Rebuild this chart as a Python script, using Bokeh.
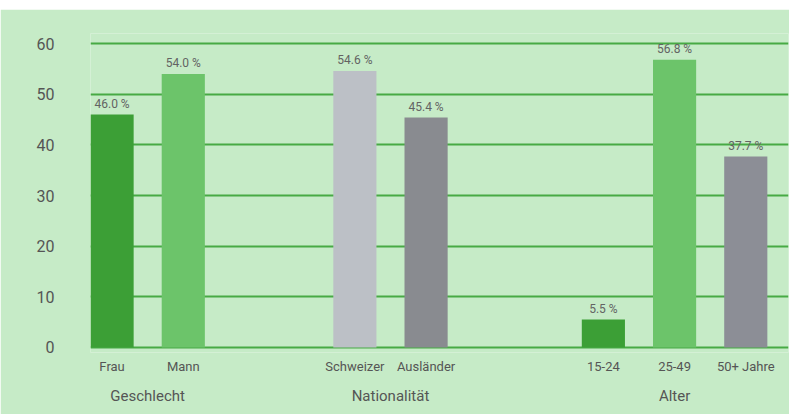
from bokeh.plotting import figure
from bokeh.models import ColumnDataSource, Range1d, FixedTicker, LinearAxis, Spacer
from bokeh.layouts import column
from bokeh.core.properties import value
from bokeh.embed import file_html
from bokeh.resources import INLINE

# ---- data ----
groups = ["Geschlecht", "Nationalität", "Alter"]
categories = [["Frau", "Mann"], ["Schweizer", "Ausländer"], ["15-24", "25-49", "50+ Jahre"]]
values = [[46.0, 54.0], [54.6, 45.4], [5.5, 56.8, 37.7]]
y_ticks = [0, 10, 20, 30, 40, 50, 60]

# ---- style ----
bar_colors = [["#3c9f36", "#6cc46a"], ["#bcc0c6", "#898b90"], ["#3c9f36", "#6cc46a", "#8c8e96"]]
FONT = "Roboto"
BG = "#c6ebc7"
GRID = "#47aa44"
TXT = "#555555"
GROUP_STEPS = [2.41, 2.49, 0]   # distance from last bar of a group to first of the next

xs, labels, vals, cols, texts = [], [], [], [], []
group_centers = []
pos = 0.0
for cats, vs, cs, step in zip(categories, values, bar_colors, GROUP_STEPS):
    first = pos
    for c, v, col in zip(cats, vs, cs):
        xs.append(pos)
        labels.append(c)
        vals.append(v)
        cols.append(col)
        texts.append(f"{v:.1f} %")
        last = pos
        pos += 1.0
    group_centers.append((first + last) / 2)
    pos = last + step

src = ColumnDataSource(dict(x=xs, v=vals, color=cols, lbl=texts))

BAR_W = 0.606
p = figure(width=789, height=405,
           x_range=Range1d(xs[0] - BAR_W / 2, xs[-1] + 0.6),
           y_range=Range1d(-1, 62),
           output_backend="svg", toolbar_location=None,
           min_border_left=90, min_border_right=1, min_border_top=24, min_border_bottom=62)
p.background_fill_color = BG
p.border_fill_color = BG
p.outline_line_color = None

p.vbar(x="x", top="v", bottom=0, width=BAR_W, fill_color="color", line_color=None, source=src)
p.text(x="x", y="v", text="lbl", source=src, text_align="center", text_baseline="bottom",
       y_offset=-4, text_font=value(FONT), text_font_size="12px", text_color="#636363")

# y axis
p.yaxis.ticker = FixedTicker(ticks=y_ticks)
p.yaxis.axis_line_color = None
p.yaxis.major_tick_line_color = None
p.yaxis.minor_tick_line_color = None
p.yaxis.major_tick_out = 0
p.yaxis.major_label_standoff = 36
p.yaxis.major_label_text_font = FONT
p.yaxis.major_label_text_font_size = "16px"
p.yaxis.major_label_text_color = TXT

p.ygrid.ticker = FixedTicker(ticks=y_ticks)
p.ygrid.grid_line_color = GRID
p.ygrid.grid_line_width = 2
p.xgrid.visible = False

# x axis: categories
xa = p.xaxis[0]
xa.ticker = FixedTicker(ticks=xs)
xa.major_label_overrides = {x: l for x, l in zip(xs, labels)}
xa.axis_line_color = None
xa.major_tick_line_color = None
xa.minor_tick_line_color = None
xa.major_tick_out = 0
xa.major_label_standoff = 6
xa.major_label_text_font = FONT
xa.major_label_text_font_size = "13px"
xa.major_label_text_color = TXT

# group axis
ga = LinearAxis(ticker=FixedTicker(ticks=group_centers),
                major_label_overrides={x: g for x, g in zip(group_centers, groups)})
ga.axis_line_color = None
ga.major_tick_line_color = None
ga.minor_tick_line_color = None
ga.major_tick_out = 0
ga.major_label_standoff = 10
ga.major_label_text_font = FONT
ga.major_label_text_font_size = "15px"
ga.major_label_text_color = TXT
p.add_layout(ga, "below")

layout = column(Spacer(width=789, height=9), p, spacing=0)
open("out.html", "w").write(file_html(layout, INLINE))
